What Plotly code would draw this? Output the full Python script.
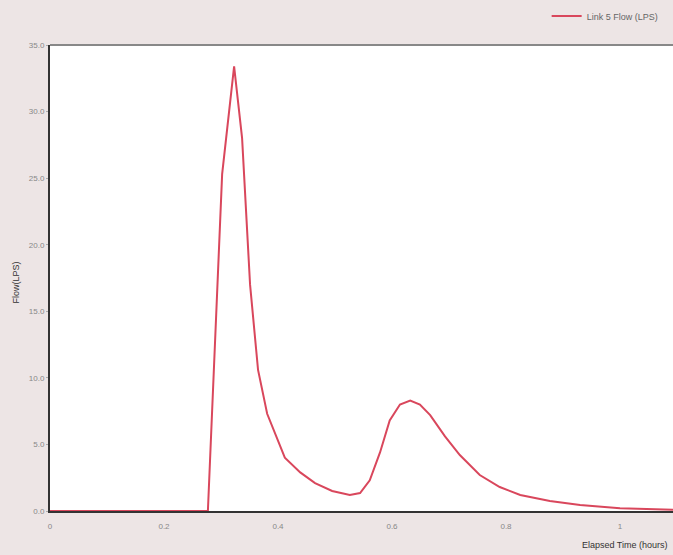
import plotly.graph_objects as go

time_hours = [0.0, 0.05, 0.10, 0.15, 0.20, 0.25, 0.277, 0.302, 0.323, 0.337, 0.351, 0.365, 0.381,
              0.412, 0.439, 0.465, 0.495, 0.526, 0.544, 0.561, 0.579, 0.596, 0.614, 0.632,
              0.649, 0.667, 0.693, 0.719, 0.754, 0.789, 0.825, 0.877, 0.93, 1.0, 1.05, 1.093]
flow_lps = [0.0, 0.0, 0.0, 0.0, 0.0, 0.0, 0.0, 25.3, 33.4, 28.0, 17.0, 10.6, 7.3,
            4.0, 2.9, 2.1, 1.5, 1.2, 1.35, 2.3, 4.4, 6.8, 8.0, 8.3,
            8.0, 7.2, 5.6, 4.2, 2.7, 1.8, 1.2, 0.75, 0.45, 0.2, 0.12, 0.1]

x_ticks = [0, 0.2, 0.4, 0.6, 0.8, 1]
x_tick_labels = ["0", "0.2", "0.4", "0.6", "0.8", "1"]
y_ticks = [0, 5, 10, 15, 20, 25, 30, 35]
y_tick_labels = ["0.0", "5.0", "10.0", "15.0", "20.0", "25.0", "30.0", "35.0"]

fig = go.Figure()
fig.add_trace(go.Scatter(
    x=time_hours, y=flow_lps, mode="lines", name="Link 5 Flow (LPS)",
    line=dict(color="#d9475c", width=2),
))

fig.update_layout(
    width=673, height=555,
    margin=dict(l=50, r=0, t=45, b=44, autoexpand=False),
    paper_bgcolor="#ede5e5",
    plot_bgcolor="#ffffff",
    font=dict(family="Liberation Sans, Arial, sans-serif", size=9, color="#777777"),
    showlegend=True,
    legend=dict(x=0.985, y=1.062, xanchor="right", yanchor="middle",
                bgcolor="rgba(0,0,0,0)", font=dict(size=9, color="#666666"),
                itemwidth=30),
    xaxis=dict(range=[0, 1.093], tickvals=x_ticks, ticktext=x_tick_labels,
               showgrid=False, zeroline=False, showline=True, linecolor="#333333",
               linewidth=2, ticks="", ticklabelstandoff=6,
               tickfont=dict(size=8, color="#888888"), title=None),
    yaxis=dict(range=[0, 35], tickvals=y_ticks, ticktext=y_tick_labels,
               showgrid=False, zeroline=False, showline=True, linecolor="#333333",
               linewidth=2, ticks="outside", ticklen=2, tickcolor="#aaaaaa",
               tickfont=dict(size=8, color="#888888"), title=None),
    shapes=[dict(type="line", xref="paper", yref="paper", x0=0, x1=1, y0=1, y1=1,
                 line=dict(color="#888888", width=2))],
    annotations=[
        dict(text="Flow(LPS)", xref="paper", yref="paper", x=-0.055, y=0.49,
             textangle=-90, showarrow=False, xanchor="center", yanchor="middle",
             font=dict(size=9, color="#333333")),
        dict(text="Elapsed Time (hours)", xref="paper", yref="paper", x=0.995, y=-0.072,
             showarrow=False, xanchor="right", yanchor="middle",
             font=dict(size=9, color="#333333")),
    ],
)

fig.write_html(
    "out.html",
    config={"displayModeBar": False},
    post_script="document.body.style.margin='0px';document.body.style.overflow='hidden';",
)
